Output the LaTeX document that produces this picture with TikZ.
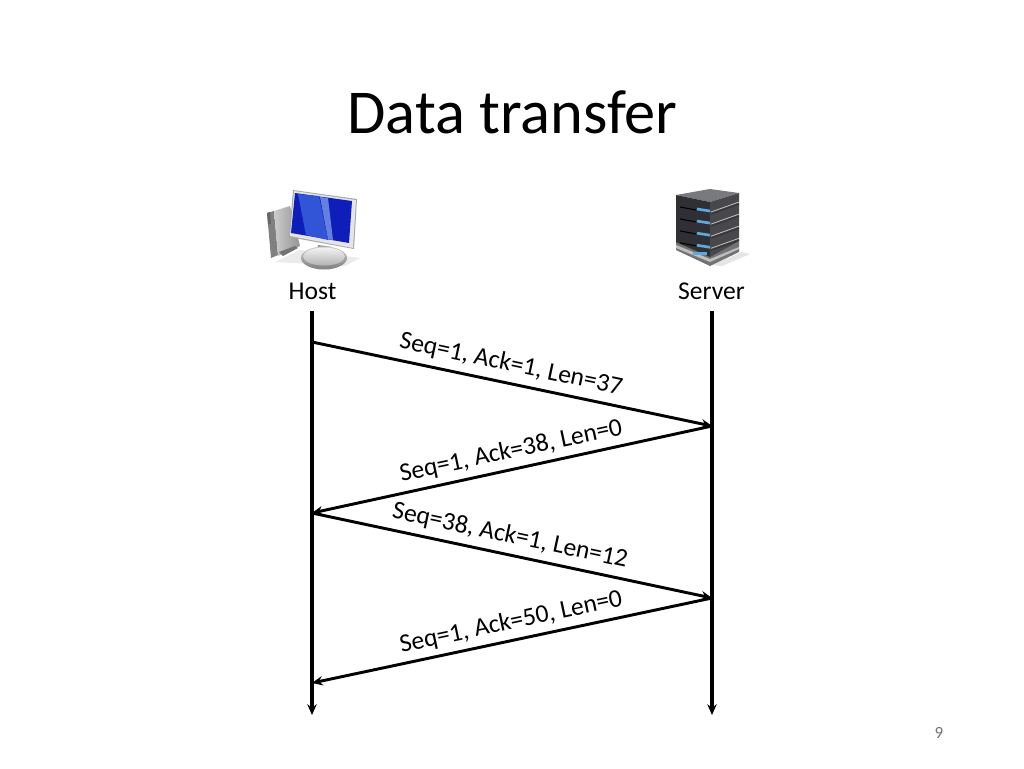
\documentclass[tikz,border=0pt]{standalone}
\usepackage{fontspec}
\setmainfont{Carlito}
\usetikzlibrary{arrows.meta}
\definecolor{scrblue}{RGB}{14,30,185}
\definecolor{scrlight}{RGB}{50,85,215}
\definecolor{srvdark}{RGB}{48,48,52}
\definecolor{srvmid}{RGB}{72,72,76}
\definecolor{srvtop}{RGB}{120,122,125}
\definecolor{lightblue}{RGB}{90,170,225}
\tikzset{
  x=0.75pt,y=-0.75pt,
  lifeline/.style={line width=2.3pt,-{Stealth[length=8pt,width=7pt]}},
  msg/.style={line width=2.2pt,-{Stealth[length=8pt,width=7pt]}},
  msglabel/.style={inner sep=0pt,font=\fontsize{19.2}{22}\selectfont,text=black},
  actor/.style={inner sep=0pt,font=\fontsize{19.2}{22}\selectfont,text=black},
}
\begin{document}
\begin{tikzpicture}
\useasboundingbox[fill=white] (0,0) rectangle (1024,768);
\node[inner sep=0pt,font=\fontsize{46.8}{56}\selectfont] (title) at (512.5,112) {Data transfer};
% host icon
\fill[black!8] (275,262) -- (345,266) -- (360,258) -- (300,250) -- cycle;
\fill[black!50] (267,213) -- (274,211) -- (278,255) -- (271,258) -- cycle;
\shade[left color=black!20,right color=black!42] (274,211) -- (290,206) -- (300,246) -- (278,256) -- cycle;
\fill[black!60] (267,213) -- (270,212) -- (271,224) -- (268,224) -- cycle;
\fill[black!55] (279,252) -- (295,246) -- (298,248) -- (283,256) -- cycle;
\fill[black!45] (318,245) -- (332,247) -- (333,255) -- (316,255) -- cycle;
\shade[top color=black!20,bottom color=black!50] (324,258) ellipse [x radius=23,y radius=11.5];
\shade[top color=black!5,bottom color=black!30] (324,256.5) ellipse [x radius=21,y radius=9];
\fill[black!35] (293,190) -- (357,199) -- (354,249) -- (289,237) -- cycle;
\fill[black!10] (294,191) -- (356,200) -- (353,248) -- (290,236) -- cycle;
\fill[scrblue] (295,193) -- (352,201) -- (349,243) -- (291,233) -- cycle;
\fill[scrlight] (298,194) -- (319,196) -- (328,240) -- (306,235) -- cycle;
\fill[scrlight!75!white] (320,197) -- (328,198) -- (333,240) -- (328,239) -- cycle;
% server icon
\fill[black!10] (712,265) -- (742,252) -- (750,254) -- (722,266) -- cycle;
\fill[black!55] (676,239) -- (710,252) -- (739,241) -- (739,252) -- (710,266) -- (676,250) -- cycle;
\fill[black!25] (676,245) -- (710,259) -- (739,247) -- (739,249) -- (710,262) -- (676,248) -- cycle;
\fill[srvtop] (676,195) -- (710,189) -- (739,193) -- (710,202) -- cycle;
\fill[srvdark] (676,195) -- (710,202) -- (710,257) -- (676,242) -- cycle;
\fill[srvmid] (710,202) -- (739,193) -- (739,241) -- (710,257) -- cycle;
\foreach \y in {0,13,26,39}{
  \draw[black,line width=.8pt] (680,{207+\y*.92}) -- (696,{210+\y*.92});
  \draw[lightblue,line width=2pt] (697,{209+\y*.93}) -- (710,{211+\y*.93});
  \draw[black!25,line width=.6pt] (711,{212+\y*.93}) -- (739,{202+\y*.93});
  \draw[black!80,line width=.8pt] (711,{214+\y*.93}) -- (739,{204+\y*.93});
}
\fill[lightblue] (693,252) rectangle (707,255);
% labels
\node[actor] (host) at (312.5,291) {Host};
\node[actor] (server) at (711.5,291) {Server};
\coordinate (hosttop) at (312,311);
\coordinate (hostend) at (312,715);
\coordinate (servertop) at (712,311);
\coordinate (serverend) at (712,715);
\coordinate (h1) at (312,342);
\coordinate (s1) at (712,426);
\coordinate (h2) at (312,513);
\coordinate (s2) at (712,598);
\coordinate (h3) at (312,683);
\draw[lifeline] (hosttop) -- (hostend);
\draw[lifeline] (servertop) -- (serverend);
\draw[msg] (h1) -- (s1);
\draw[msg] (s1) -- (h2);
\draw[msg] (h2) -- (s2);
\draw[msg] (s2) -- (h3);
\node[msglabel,rotate=-12] (l1) at (511,364.5) {Seq=1, Ack=1, Len=37};
\node[msglabel,rotate=12] (l2) at (511,451.5) {Seq=1, Ack=38, Len=0};
\node[msglabel,rotate=-12] (l3) at (510,536) {Seq=38, Ack=1, Len=12};
\node[msglabel,rotate=12] (l4) at (511,622.5) {Seq=1, Ack=50, Len=0};
\node[inner sep=0pt,font=\fontsize{12.8}{15}\selectfont,text=black!55] (page) at (939,733) {9};
\end{tikzpicture}
\end{document}
